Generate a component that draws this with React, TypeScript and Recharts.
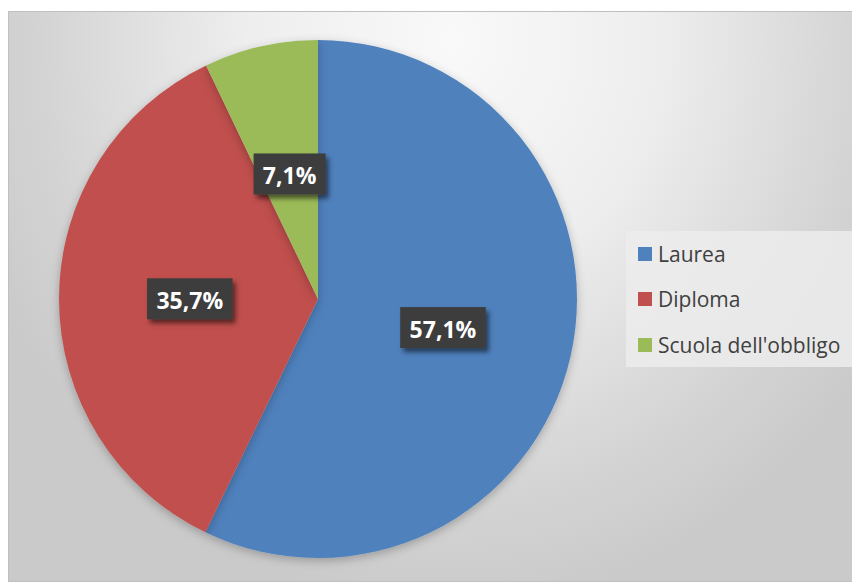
import React from "react";
import { PieChart, Pie, Cell, Legend } from "recharts";

const categories = ["Laurea", "Diploma", "Scuola dell'obbligo"];
const values = [57.1, 35.7, 7.1];
const labels = ["57,1%", "35,7%", "7,1%"];
const colors = ["#4F81BD", "#C0504D", "#9BBB59"];

const data = categories.map((name, i) => ({ name, value: values[i], label: labels[i] }));

const RAD = Math.PI / 180;

const renderLabel = (props: any) => {
  const { cx, cy, midAngle, outerRadius, index } = props;
  const r = outerRadius * 0.495;
  const x = cx + r * Math.cos(-midAngle * RAD);
  const y = cy + r * Math.sin(-midAngle * RAD);
  const text = labels[index];
  const w = text.length * 13.5 + 18;
  const h = 41;
  return (
    <g key={"lbl" + index}>
      <rect x={x - w / 2} y={y - h / 2} width={w} height={h} fill="#3d3d3d" filter="url(#lblShadow)" />
      <text
        x={x}
        y={y + 1}
        textAnchor="middle"
        dominantBaseline="central"
        fill="#ffffff"
        fontFamily="'Open Sans', sans-serif"
        fontWeight={700}
        fontSize={23}
      >
        {text}
      </text>
    </g>
  );
};

const renderLegend = () => (
  <div
    style={{
      width: 226,
      height: 136,
      background: "rgba(236,236,236,0.85)",
      boxSizing: "border-box",
      paddingLeft: 12,
      paddingTop: 0,
      fontFamily: "'Open Sans', sans-serif",
      fontSize: 21,
      color: "#404040",
    }}
  >
    {categories.map((c, i) => (
      <div key={c} style={{ display: "flex", alignItems: "center", height: 45.5 }}>
        <span style={{ display: "inline-block", width: 14, height: 14, background: colors[i], marginRight: 6 }} />
        <span style={{ lineHeight: "22px" }}>{c}</span>
      </div>
    ))}
  </div>
);

export default function App() {
  return (
    <div>
      <style>{"body{overflow:hidden}"}</style>
      <div
        style={{
          position: "relative",
          marginTop: 3,
          width: 852,
          height: 571,
          boxSizing: "border-box",
          border: "1px solid #c0c0c0",
          background:
            "radial-gradient(ellipse 60% 100% at 52% 5%, #f9f9f9 0%, #eeeeee 40%, #d4d4d4 80%, #cacaca 100%)",
        }}
      >
        <PieChart width={850} height={569}>
          <defs>
            <filter id="lblShadow" x="-20%" y="-20%" width="150%" height="160%">
              <feDropShadow dx="3" dy="4" stdDeviation="2.5" floodColor="#000" floodOpacity="0.55" />
            </filter>
            <filter id="pieShadow" x="-10%" y="-10%" width="120%" height="120%">
              <feDropShadow dx="0" dy="3" stdDeviation="5" floodColor="#000" floodOpacity="0.25" />
            </filter>
          </defs>
          <Pie
            data={data}
            dataKey="value"
            nameKey="name"
            cx={304}
            cy={282}
            outerRadius={259}
            startAngle={90}
            endAngle={-270}
            stroke="none"
            label={renderLabel}
            labelLine={false}
            isAnimationActive={false}
            style={{ filter: "url(#pieShadow)" }}
          >
            {data.map((d, i) => (
              <Cell key={d.name} fill={colors[i]} />
            ))}
          </Pie>
          <Legend content={renderLegend} wrapperStyle={{ left: 617, top: 219, width: 226, height: 136 }} />
        </PieChart>
      </div>
    </div>
  );
}
